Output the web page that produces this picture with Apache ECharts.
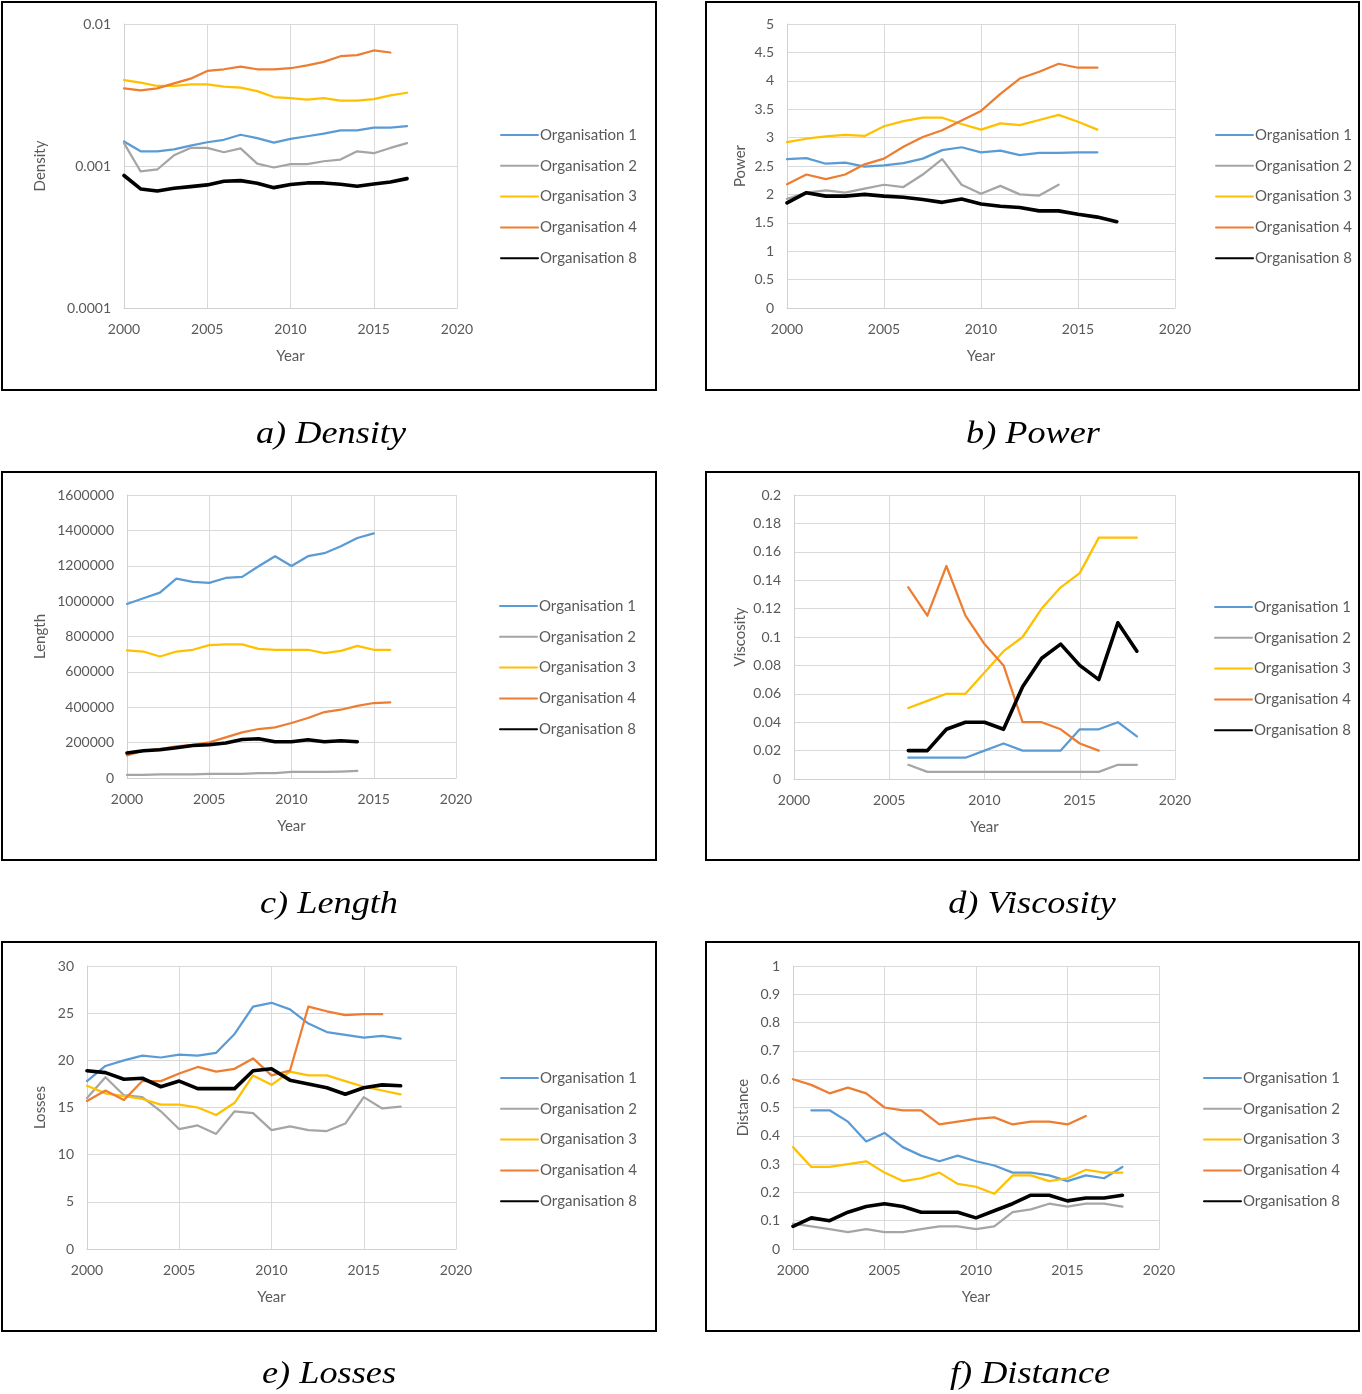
<!DOCTYPE html>
<html><head><meta charset="utf-8">
<script src="https://cdn.jsdelivr.net/npm/echarts@6/dist/echarts.min.js"></script>
<style>html,body{margin:0;padding:0;background:#fff}#c{width:1362px;height:1394px}</style>
</head><body><div id="c"></div><script>
// ---------------- DATA ----------------
const seriesNames = ['Organisation 1','Organisation 2','Organisation 3','Organisation 4','Organisation 8'];
const xTicks = [2000, 2005, 2010, 2015, 2020];

// a) Density (log scale)
const densityYears = [2000,2001,2002,2003,2004,2005,2006,2007,2008,2009,2010,2011,2012,2013,2014,2015,2016,2017];
const densityOrg1 = [0.00149,0.00127,0.00127,0.00131,0.00139,0.00147,0.00153,0.00166,0.00157,0.00146,0.00155,0.00162,0.00169,0.00178,0.00178,0.00186,0.00186,0.00191];
const densityOrg2 = [0.00145,0.000915,0.000945,0.00119,0.00134,0.00134,0.00125,0.00133,0.00104,0.000976,0.00103,0.00103,0.00108,0.00111,0.00127,0.00123,0.00134,0.00145];
const densityOrg3 = [0.00403,0.00386,0.00366,0.00366,0.00376,0.00376,0.00362,0.00356,0.00337,0.00306,0.00301,0.00293,0.00301,0.00289,0.00289,0.00296,0.00314,0.00328];
const densityOrg4 = [0.00352,0.00341,0.00352,0.00382,0.00412,0.00467,0.00480,0.00501,0.00480,0.00480,0.00488,0.00512,0.00541,0.00593,0.00603,0.00651,0.00630,null];
const densityOrg8 = [0.000857,0.000689,0.000667,0.000697,0.000716,0.000736,0.000781,0.000789,0.000756,0.000704,0.000740,0.000760,0.000760,0.000743,0.000720,0.000747,0.000772,0.000815];
const densityTicks = [0.0001, 0.001, 0.01];

// b) Power
const powerYears = [2000,2001,2002,2003,2004,2005,2006,2007,2008,2009,2010,2011,2012,2013,2014,2015,2016,2017];
const powerOrg1 = [2.62,2.64,2.54,2.56,2.49,2.51,2.55,2.63,2.78,2.83,2.74,2.77,2.69,2.73,2.73,2.74,2.74,null];
const powerOrg2 = [1.92,2.03,2.07,2.03,2.10,2.17,2.13,2.35,2.62,2.17,2.01,2.15,2.00,1.98,2.17,null,null,null];
const powerOrg3 = [2.92,2.98,3.02,3.05,3.03,3.20,3.29,3.35,3.35,3.24,3.14,3.25,3.22,3.31,3.40,3.28,3.14,null];
const powerOrg4 = [2.18,2.35,2.27,2.35,2.53,2.63,2.84,3.01,3.13,3.30,3.47,3.77,4.04,4.16,4.30,4.23,4.23,null];
const powerOrg8 = [1.85,2.03,1.97,1.97,2.00,1.97,1.95,1.91,1.86,1.92,1.83,1.79,1.77,1.71,1.71,1.65,1.60,1.52];
const powerTicks = [0, 0.5, 1, 1.5, 2, 2.5, 3, 3.5, 4, 4.5, 5];

// c) Length
const lengthYears = [2000,2001,2002,2003,2004,2005,2006,2007,2008,2009,2010,2011,2012,2013,2014,2015,2016];
const lengthOrg1 = [984000,1016000,1048000,1127000,1109000,1103000,1131000,1137000,1197000,1254000,1199000,1254000,1271000,1310000,1357000,1383000,null];
const lengthOrg2 = [17000,17000,21000,21000,21000,24000,24000,24000,28000,28000,34000,34000,34000,36000,40000,null,null];
const lengthOrg3 = [721000,715000,687000,715000,725000,751000,755000,755000,730000,725000,725000,725000,706000,719000,747000,725000,725000];
const lengthOrg4 = [128000,154000,164000,179000,188000,201000,230000,258000,277000,286000,311000,339000,373000,386000,408000,424000,427000];
const lengthOrg8 = [141000,154000,160000,171000,184000,188000,198000,218000,222000,205000,205000,216000,205000,211000,205000,null,null];
const lengthTicks = [0,200000,400000,600000,800000,1000000,1200000,1400000,1600000];

// d) Viscosity
const viscosityYears = [2006,2007,2008,2009,2010,2011,2012,2013,2014,2015,2016,2017,2018];
const viscosityOrg1 = [0.015,0.015,0.015,0.015,0.020,0.025,0.020,0.020,0.020,0.035,0.035,0.040,0.030];
const viscosityOrg2 = [0.010,0.005,0.005,0.005,0.005,0.005,0.005,0.005,0.005,0.005,0.005,0.010,0.010];
const viscosityOrg3 = [0.050,0.055,0.060,0.060,0.075,0.090,0.100,0.120,0.135,0.145,0.170,0.170,0.170];
const viscosityOrg4 = [0.135,0.115,0.150,0.115,0.095,0.080,0.040,0.040,0.035,0.025,0.020,null,null];
const viscosityOrg8 = [0.020,0.020,0.035,0.040,0.040,0.035,0.065,0.085,0.095,0.080,0.070,0.110,0.090];
const viscosityTicks = [0,0.02,0.04,0.06,0.08,0.1,0.12,0.14,0.16,0.18,0.2];

// e) Losses
const lossesYears = [2000,2001,2002,2003,2004,2005,2006,2007,2008,2009,2010,2011,2012,2013,2014,2015,2016,2017];
const lossesOrg1 = [17.8,19.4,20.0,20.5,20.3,20.6,20.5,20.8,22.8,25.7,26.1,25.4,23.9,23.0,22.7,22.4,22.6,22.3];
const lossesOrg2 = [16.0,18.2,16.3,16.1,14.6,12.7,13.1,12.2,14.6,14.4,12.6,13.0,12.6,12.5,13.3,16.1,14.9,15.1];
const lossesOrg3 = [17.3,16.5,16.2,15.9,15.3,15.3,15.0,14.2,15.5,18.4,17.4,18.8,18.4,18.4,17.8,17.2,16.8,16.4];
const lossesOrg4 = [15.7,16.8,15.8,17.8,17.8,18.6,19.3,18.8,19.1,20.2,18.4,18.9,25.7,25.2,24.8,24.9,24.9,null];
const lossesOrg8 = [18.9,18.7,18.0,18.1,17.2,17.8,17.0,17.0,17.0,18.9,19.1,17.9,17.5,17.1,16.4,17.1,17.4,17.3];
const lossesTicks = [0,5,10,15,20,25,30];

// f) Distance
const distanceYears = [2000,2001,2002,2003,2004,2005,2006,2007,2008,2009,2010,2011,2012,2013,2014,2015,2016,2017,2018];
const distanceOrg1 = [null,0.49,0.49,0.45,0.38,0.41,0.36,0.33,0.31,0.33,0.31,0.295,0.27,0.27,0.26,0.24,0.26,0.25,0.29];
const distanceOrg2 = [0.09,0.08,0.07,0.06,0.07,0.06,0.06,0.07,0.08,0.08,0.07,0.08,0.13,0.14,0.16,0.15,0.16,0.16,0.15];
const distanceOrg3 = [0.36,0.29,0.29,0.30,0.31,0.27,0.24,0.25,0.27,0.23,0.22,0.195,0.26,0.26,0.24,0.25,0.28,0.27,0.27];
const distanceOrg4 = [0.60,0.58,0.55,0.57,0.55,0.50,0.49,0.49,0.44,0.45,0.46,0.465,0.44,0.45,0.45,0.44,0.47,null,null];
const distanceOrg8 = [0.08,0.11,0.10,0.13,0.15,0.16,0.15,0.13,0.13,0.13,0.11,0.135,0.16,0.19,0.19,0.17,0.18,0.18,0.19];
const distanceTicks = [0,0.1,0.2,0.3,0.4,0.5,0.6,0.7,0.8,0.9,1];

// ---------------- LAYOUT / STYLE ----------------
const colors = ['#5B9BD5','#A5A5A5','#FFC000','#ED7D31','#000000'];
const widths = [2.25,2.25,2.25,2.25,3.6];
const FONT = 'Lato';
const TXT = '#595959';

const panels = [
  {caption:'a) Density', yName:'Density', years:densityYears, data:[densityOrg1,densityOrg2,densityOrg3,densityOrg4,densityOrg8], ticks:densityTicks, log:true,
   box:[2,2,654,388], g:[124,24,457,308], lg:[500,127], yGap:76, cap:[331,435]},
  {caption:'b) Power', yName:'Power', years:powerYears, data:[powerOrg1,powerOrg2,powerOrg3,powerOrg4,powerOrg8], ticks:powerTicks,
   box:[706,2,653,388], g:[787,24,1175,308], lg:[1215,127], yGap:39, cap:[1033,435]},
  {caption:'c) Length', yName:'Length', years:lengthYears, data:[lengthOrg1,lengthOrg2,lengthOrg3,lengthOrg4,lengthOrg8], ticks:lengthTicks,
   box:[2,472,654,388], g:[127,495,456,778], lg:[499,598], yGap:79, cap:[329,905]},
  {caption:'d) Viscosity', yName:'Viscosity', years:viscosityYears, data:[viscosityOrg1,viscosityOrg2,viscosityOrg3,viscosityOrg4,viscosityOrg8], ticks:viscosityTicks,
   box:[706,472,653,388], g:[794,495,1175,779], lg:[1214,599], yGap:46, cap:[1032,905]},
  {caption:'e) Losses', yName:'Losses', years:lossesYears, data:[lossesOrg1,lossesOrg2,lossesOrg3,lossesOrg4,lossesOrg8], ticks:lossesTicks,
   box:[2,942,654,389], g:[87,966,456,1249], lg:[500,1070], yGap:39, cap:[329,1375]},
  {caption:'f) Distance', yName:'Distance', years:distanceYears, data:[distanceOrg1,distanceOrg2,distanceOrg3,distanceOrg4,distanceOrg8], ticks:distanceTicks,
   box:[706,942,653,389], g:[793,966,1159,1249], lg:[1203,1070], yGap:42, cap:[1030,1375]}
];

const grid = [], xAxis = [], yAxis = [], series = [], legend = [], graphic = [];
panels.forEach((p, i) => {
  grid.push({left:p.g[0], top:p.g[1], width:p.g[2]-p.g[0], height:p.g[3]-p.g[1], outerBoundsMode:'none', containLabel:false});
  xAxis.push({
    gridIndex:i, type:'value', min:xTicks[0], max:xTicks[xTicks.length-1], interval:xTicks[1]-xTicks[0],
    name:'Year', nameLocation:'middle', nameGap:41,
    nameTextStyle:{fontFamily:FONT, fontSize:15, color:TXT},
    axisLine:{show:true, lineStyle:{color:'#D0D0D0', width:1}},
    axisTick:{show:false},
    axisLabel:{fontFamily:FONT, fontSize:14, color:TXT, margin:14, formatter: v => String(v)},
    splitLine:{show:true, lineStyle:{color:'#D9D9D9', width:1}}
  });
  const ya = {
    gridIndex:i, name:p.yName, nameLocation:'middle', nameGap:p.yGap, nameRotate:90,
    nameTextStyle:{fontFamily:FONT, fontSize:15, color:TXT},
    axisLine:{show:true, lineStyle:{color:'#D0D0D0', width:1}},
    axisTick:{show:false},
    axisLabel:{fontFamily:FONT, fontSize:14, color:TXT, margin:13, formatter: v => String(Number(Number(v).toPrecision(6)))},
    splitLine:{show:true, lineStyle:{color:'#D9D9D9', width:1}}
  };
  if (p.log) {
    Object.assign(ya, {type:'log', logBase:10, min:p.ticks[0], max:p.ticks[p.ticks.length-1]});
    ya.minorSplitLine = {show:false};
  } else {
    Object.assign(ya, {type:'value', min:p.ticks[0], max:p.ticks[p.ticks.length-1], interval:p.ticks[1]-p.ticks[0]});
  }
  yAxis.push(ya);
  p.data.forEach((arr, k) => {
    series.push({
      type:'line', name:seriesNames[k], xAxisIndex:i, yAxisIndex:i,
      data: p.years.map((y, j) => [y, arr[j]]),
      symbol:'none', showSymbol:false, connectNulls:false, smooth:false,
      lineStyle:{color:colors[k], width:widths[k], cap:'round', join:'round'},
      itemStyle:{color:colors[k]},
      emphasis:{disabled:true}, animation:false, z: 2 + k
    });
  });
  legend.push({
    orient:'vertical', left:p.lg[0], top:p.lg[1], padding:0, data:seriesNames,
    itemWidth:37, itemHeight:16, itemGap:14.8,
    itemStyle:{opacity:0},
    textStyle:{fontFamily:FONT, fontSize:15, color:TXT, lineHeight:16, padding:[0,0,0,-3]},
    selectedMode:false
  });
  graphic.push({type:'text', x:p.cap[0], y:p.cap[1], scaleX:1.17, silent:true, z:100,
    style:{text:p.caption, fontFamily:'Liberation Serif', fontStyle:'italic', fontSize:31, fill:'#000',
      textAlign:'center', textVerticalAlign:'middle'}});
  graphic.push({type:'rect', shape:{x:p.box[0], y:p.box[1], width:p.box[2], height:p.box[3]},
    style:{fill:'none', stroke:'#000', lineWidth:2}, silent:true, z:100});
});

const chart = echarts.init(document.getElementById('c'), null, {renderer:'canvas'});
chart.setOption({animation:false, backgroundColor:'#fff', color:colors, grid, xAxis, yAxis, series, legend, graphic});
</script></body></html>
